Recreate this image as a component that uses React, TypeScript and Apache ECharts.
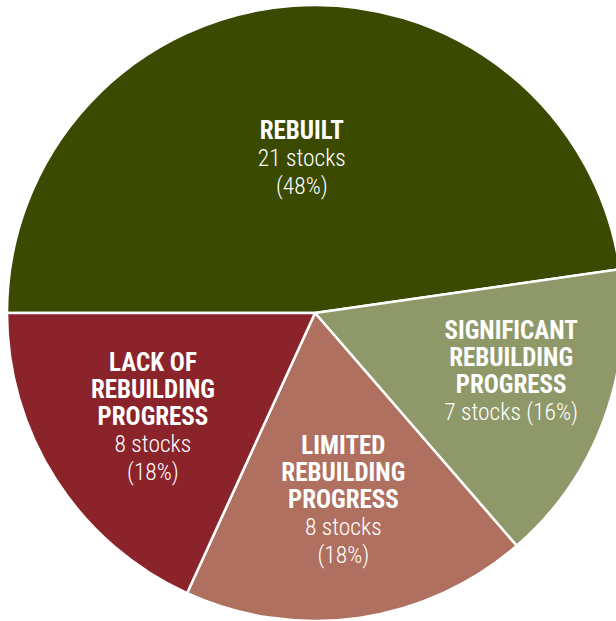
import React, { useEffect, useRef } from "react";
import * as echarts from "echarts";

const categories = ["REBUILT", "SIGNIFICANT\nREBUILDING\nPROGRESS", "LIMITED\nREBUILDING\nPROGRESS", "LACK OF\nREBUILDING\nPROGRESS"];
const stocks = [21, 7, 8, 8];
const percents = [48, 16, 18, 18];
const colors = ["#3a4a00", "#8f9868", "#b07060", "#8b232b"];
const detailLines = ["{n|21 stocks}\n{n|(48%)}", "{n|7 stocks (16%)}", "{n|8 stocks}\n{n|(18%)}", "{n|8 stocks}\n{n|(18%)}"];
const labelOffsets = [[-2, 2], [49, 4], [6, 32], [-30, 20]];

const FONT = '"Roboto Condensed", "Liberation Sans Narrow", "DejaVu Sans Condensed", "Arial Narrow", sans-serif';

export default function App() {
  const ref = useRef<HTMLDivElement>(null);
  useEffect(() => {
    const chart = echarts.init(ref.current!, null, { renderer: "svg" });
    chart.setOption({
      animation: false,
      series: [
        {
          type: "pie",
          center: [315, 313],
          radius: 308,
          startAngle: 180,
          clockwise: true,
          avoidLabelOverlap: false,
          itemStyle: { borderColor: "#ffffff", borderWidth: 2.5 },
          label: {
            show: true,
            position: "inside",
            color: "#ffffff",
            fontFamily: FONT,
            lineHeight: 27,
          },
          labelLine: { show: false },
          emphasis: { disabled: true },
          data: categories.map((c, i) => ({
            name: c,
            value: stocks[i],
            itemStyle: { color: colors[i] },
            label: {
              offset: labelOffsets[i],
              formatter: () =>
                c
                  .split("\n")
                  .map((l) => `{b|${l}}`)
                  .join("\n") +
                "\n" +
                detailLines[i],
              rich: {
                b: { fontFamily: FONT, fontWeight: "bold", fontSize: 25, lineHeight: 27, color: "#ffffff", align: "center" },
                n: { fontFamily: FONT, fontWeight: 300, fontSize: 23.5, lineHeight: 28, color: "#ffffff", align: "center" },
              },
            },
          })),
        },
      ],
    });
    return () => chart.dispose();
  }, []);
  return <div ref={ref} style={{ position: "fixed", left: 0, top: 0, width: 616, height: 621, background: "#ffffff" }} />;
}
